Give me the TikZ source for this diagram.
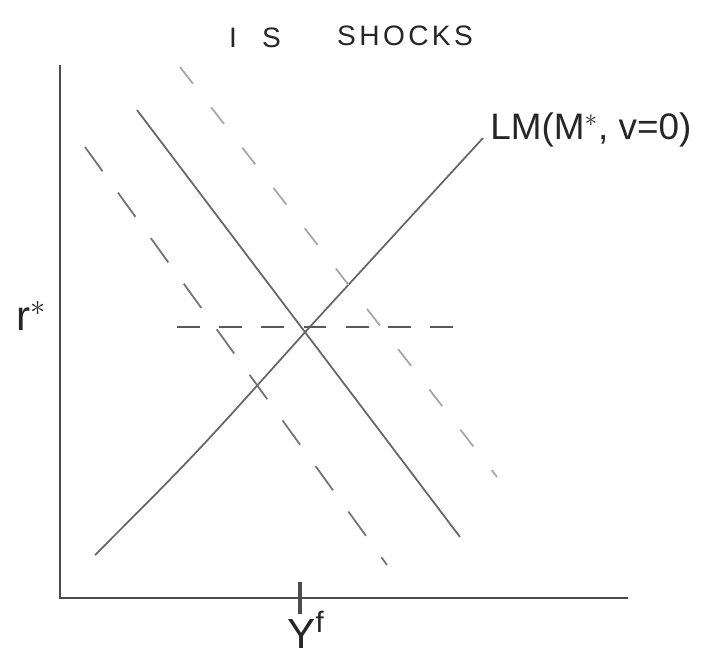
\documentclass[tikz,border=0pt]{standalone}
\usepackage{fontspec}
\setmainfont{Liberation Sans}
\begin{document}
\begin{tikzpicture}[x=0.02cm,y=-0.02cm,
  axisline/.style={draw=black!70, line width=1.1pt},
  solidcurve/.style={draw=black!60, line width=1pt},
  dashcurveA/.style={draw=black!55, line width=1pt, dash pattern=on 17pt off 15pt},
  dashcurveB/.style={draw=black!35, line width=1pt, dash pattern=on 12pt off 17pt},
  hdash/.style={draw=black!65, line width=0.9pt, dash pattern=on 13pt off 11pt},
  lbl/.style={inner sep=0pt, text=black!85}]
\useasboundingbox (0,0) rectangle (702,655);
% axes
\coordinate (ytop) at (60,65);
\coordinate (origin) at (60,598);
\coordinate (xend) at (628,598);
\draw[axisline] (ytop) -- (origin) -- (xend);
% Y^f tick
\coordinate (tickT) at (300,582);
\coordinate (tickB) at (300,614);
\draw[axisline, line width=2pt] (tickT) -- (tickB);
% LM curve
\coordinate (lmA) at (95,555);
\coordinate (eq) at (307,330);
\coordinate (lmB) at (483,138);
\draw[solidcurve] (lmA) .. controls (195,455) .. (eq) -- (lmB);
% IS solid
\coordinate (isA) at (137,110);
\coordinate (isB) at (460,537);
\draw[solidcurve] (isA) -- (isB);
% IS dashed left
\coordinate (isLA) at (85,147);
\coordinate (isLB) at (387,565);
\draw[dashcurveA] (isLA) -- (isLB);
% IS dashed right
\coordinate (isRA) at (180,67);
\coordinate (isRB) at (497,477);
\draw[dashcurveB] (isRA) -- (isRB);
% horizontal dashed at r*
\coordinate (hA) at (177,327);
\coordinate (hB) at (457,327);
\draw[hdash] (hA) -- (hB);
% labels
\node[lbl, font=\fontsize{16}{18}\selectfont] (t1) at (255,38) {I\hspace{0.9em}S};
\node[lbl, font=\fontsize{16}{18}\selectfont\addfontfeatures{LetterSpace=12}] (t2) at (405,36) {SHOCKS};
\node[lbl, font=\fontsize{21}{24}\selectfont, anchor=west] (lm) at (490,130) {LM(M$^*$, v=0)};
\node[lbl, font=\fontsize{24}{26}\selectfont] (rs) at (32,316) {r$^*$};
\node[lbl, font=\fontsize{24}{26}\selectfont] (yf) at (306,630) {Y$^{\mathrm{f}}$};
\end{tikzpicture}
\end{document}
